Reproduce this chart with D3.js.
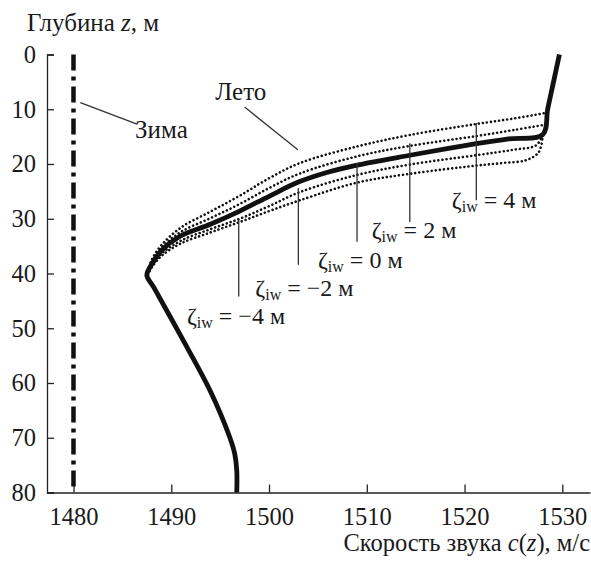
<!DOCTYPE html>
<html>
<head>
<meta charset="utf-8">
<script src="https://cdn.jsdelivr.net/npm/d3@7"></script>
<style>
  body { margin: 0; background: #fff; }
</style>
</head>
<body>
<div id="chart"></div>
<script>
// Профили скорости звука: [c, z]
const winterC = 1480;
const depthTicks = [0, 10, 20, 30, 40, 50, 60, 70, 80];
const speedTicks = [1480, 1490, 1500, 1510, 1520, 1530];

// Лето, zeta_iw = 0 (жирная линия)
const summer0 = [
  [1529.7, 0], [1529.1, 5], [1528.5, 10], [1528.0, 14.6], [1524.5, 15.4],
  [1521.2, 16.3], [1518.5, 17.1], [1514.4, 18.4], [1509.0, 20.2], [1506.0, 21.5],
  [1503.0, 23.3], [1500.0, 25.9], [1497.0, 28.6], [1494.0, 31.0], [1490.9, 33.2],
  [1489.0, 35.8], [1488.0, 38.3], [1487.5, 40.3], [1488.2, 42.5], [1491.0, 51.5],
  [1494.0, 61.5], [1496.0, 70.0], [1496.5, 73.0], [1496.7, 76.0], [1496.7, 80.0]
];
// пунктирные профили для других zeta_iw
const summerP4 = [
  [1528.5, 10.6], [1525.0, 11.7], [1521.2, 12.7], [1514.4, 14.7], [1509.0, 16.8],
  [1503.2, 19.8], [1500.0, 22.6], [1497.0, 25.8], [1494.0, 28.7], [1491.0, 31.6],
  [1489.0, 34.8], [1488.0, 37.5], [1487.6, 39.5]
];
const summerP2 = [
  [1528.3, 12.8], [1525.0, 13.8], [1521.2, 14.9], [1514.4, 16.7], [1509.0, 18.6],
  [1503.2, 21.7], [1500.0, 24.4], [1497.0, 27.3], [1494.0, 29.9], [1491.0, 32.4],
  [1489.0, 35.3], [1488.0, 37.9], [1487.6, 39.8]
];
const summerM2 = [
  [1528.0, 14.8], [1527.3, 16.6], [1525.0, 17.4], [1521.2, 18.4], [1514.4, 20.1],
  [1509.0, 22.0], [1503.2, 25.1], [1500.0, 27.7], [1497.0, 30.0], [1494.0, 31.9],
  [1491.0, 34.0], [1489.0, 36.4], [1488.0, 38.7], [1487.6, 40.2]
];
const summerM4 = [
  [1528.0, 14.8], [1527.6, 17.8], [1526.3, 19.3], [1524.0, 19.8], [1521.2, 20.3],
  [1514.4, 21.8], [1509.0, 23.4], [1503.2, 26.6], [1500.0, 28.6], [1497.0, 30.6],
  [1494.0, 32.5], [1491.0, 34.5], [1489.0, 36.8], [1488.0, 38.9], [1487.6, 40.3]
];

// подписи zeta_iw: значение, линия-выноска (c, z1, z2), начало текста (c, z)
const zetaLabels = [
  { val: "4",  leadC: 1521.2, z1: 12.5, z2: 26.6, textC: 1518.7, textZ: 28.0 },
  { val: "2",  leadC: 1514.4, z1: 16.2, z2: 30.6, textC: 1510.5, textZ: 33.6 },
  { val: "0",  leadC: 1509.0, z1: 19.8, z2: 34.2, textC: 1505.0, textZ: 39.0 },
  { val: "−2", leadC: 1503.0, z1: 24.4, z2: 38.4, textC: 1498.6, textZ: 44.2 },
  { val: "−4", leadC: 1496.9, z1: 30.2, z2: 44.2, textC: 1491.6, textZ: 49.3 }
];

const FONT = '"Times New Roman", "Liberation Serif", serif';
const width = 591;
const height = 563;

const svg = d3.select("#chart")
  .append("svg")
  .attr("width", width)
  .attr("height", height)
  .attr("font-family", FONT);

const x = d3.scaleLinear().domain([1477.29, 1532.83]).range([47, 590]);
const y = d3.scaleLinear().domain([0, 80]).range([54.5, 492.5]);

// оси
const yAxis = svg.append("g")
  .attr("transform", `translate(${x.range()[0]},0)`)
  .call(d3.axisLeft(y).tickValues(depthTicks).tickSize(-7).tickSizeOuter(-7).tickPadding(11));

const xAxis = svg.append("g")
  .attr("transform", `translate(0,${y.range()[1]})`)
  .call(d3.axisBottom(x).tickValues(speedTicks).tickFormat(d3.format("d")).tickSize(-8).tickSizeOuter(0).tickPadding(15));

[yAxis, xAxis].forEach((g) => {
  g.attr("font-family", FONT).attr("font-size", 24.5);
  g.selectAll("path, line").attr("stroke", "#222").attr("stroke-width", 1.3);
  g.selectAll("text").attr("fill", "#1a1a1a");
});

// Зима
svg.append("line")
  .attr("x1", x(winterC)).attr("x2", x(winterC))
  .attr("y1", y(0)).attr("y2", y(80))
  .attr("stroke", "#111")
  .attr("stroke-width", 4.5)
  .attr("stroke-dasharray", "16,6,4,6");

const line = d3.line()
  .x((d) => x(d[0]))
  .y((d) => y(d[1]))
  .curve(d3.curveCatmullRom.alpha(0.5));

// пунктирные профили
[summerP4, summerP2, summerM2, summerM4].forEach((data) => {
  svg.append("path")
    .datum(data)
    .attr("fill", "none")
    .attr("stroke", "#111")
    .attr("stroke-width", 2.6)
    .attr("stroke-linecap", "round")
    .attr("stroke-dasharray", "0.01,4.1")
    .attr("d", line);
});

// основной летний профиль
svg.append("path")
  .datum(summer0)
  .attr("fill", "none")
  .attr("stroke", "#111")
  .attr("stroke-width", 4.8)
  .attr("stroke-linejoin", "round")
  .attr("d", line);

// выноски
function leader(c1, z1, c2, z2) {
  svg.append("line")
    .attr("x1", x(c1)).attr("y1", y(z1))
    .attr("x2", x(c2)).attr("y2", y(z2))
    .attr("stroke", "#333")
    .attr("stroke-width", 1.3);
}

function label(c, z, txt, size) {
  return svg.append("text")
    .attr("x", x(c)).attr("y", y(z))
    .attr("font-size", size)
    .attr("fill", "#1a1a1a")
    .text(txt);
}

leader(1480.7, 8.8, 1486.5, 12.7);
label(1486.3, 15.25, "Зима", 25);

leader(1497.5, 9.6, 1502.95, 17.4);
label(1494.5, 8.3, "Лето", 25);

zetaLabels.forEach((d) => {
  leader(d.leadC, d.z1, d.leadC, d.z2);
  const t = label(d.textC, d.textZ, null, 24);
  t.append("tspan").text("ζ");
  t.append("tspan").attr("dy", 4).attr("font-size", 16).text("iw");
  t.append("tspan").attr("dy", -4).text(` = ${d.val} м`);
});

// подписи осей
const yTitle = svg.append("text")
  .attr("x", 27).attr("y", y(0) - 23.5)
  .attr("font-size", 25)
  .attr("fill", "#1a1a1a");
yTitle.append("tspan").text("Глубина ");
yTitle.append("tspan").attr("font-style", "italic").text("z");
yTitle.append("tspan").text(", м");

const xTitle = svg.append("text")
  .attr("x", 590).attr("y", 551)
  .attr("text-anchor", "end")
  .attr("font-size", 24.5)
  .attr("fill", "#1a1a1a");
xTitle.append("tspan").text("Скорость звука ");
xTitle.append("tspan").attr("font-style", "italic").text("c");
xTitle.append("tspan").text("(");
xTitle.append("tspan").attr("font-style", "italic").text("z");
xTitle.append("tspan").text("), м/с");
</script>
</body>
</html>
